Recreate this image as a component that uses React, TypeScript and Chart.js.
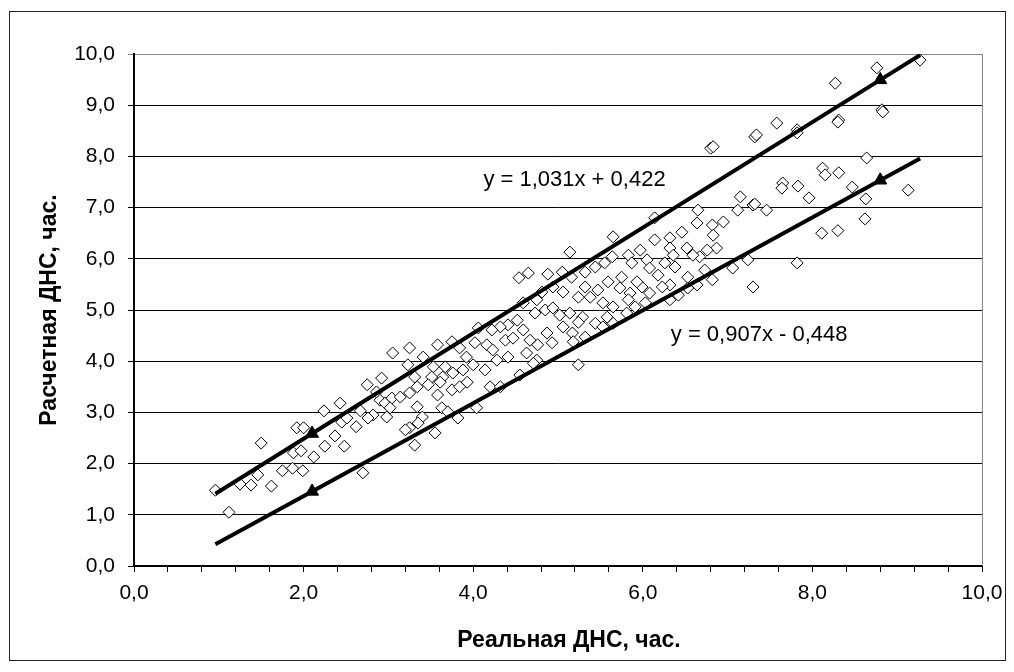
import React, { useEffect, useRef } from "react";
import { Chart, registerables } from "chart.js";

Chart.register(...registerables);

const realX = [
  0.96, 1.12, 1.25, 1.38, 1.46, 1.5, 1.62, 1.75, 1.87, 1.99, 1.88, 1.97, 2.12, 1.92, 2.0, 2.25, 2.37, 2.48,
  2.24, 2.43, 2.45, 2.51, 2.62, 2.67, 2.75, 2.82, 2.76, 2.92, 2.98, 2.9, 2.96, 3.04, 3.05, 2.7, 2.86, 3.02,
  5.14, 4.54, 4.65, 4.88, 5.05, 5.16, 5.06, 4.94, 4.81, 4.75, 4.59, 4.73, 4.85, 4.94, 5.02, 5.14, 4.52, 4.41,
  4.32, 4.22, 4.06, 3.75, 3.58, 3.25, 3.41, 3.53, 3.67, 3.84, 3.92, 4.02, 4.16, 4.23, 4.38, 4.47, 4.59, 4.67,
  4.76, 4.87, 4.93, 5.06, 5.17, 4.63, 4.75, 4.41, 4.28, 4.14, 4.0, 3.88, 3.76, 3.64, 3.51, 3.31, 3.23, 3.34,
  3.47, 3.61, 3.75, 3.93, 3.84, 3.58, 3.25, 3.14, 3.34, 3.63, 3.7, 3.4, 3.25, 3.2, 3.35, 3.55, 3.31, 3.82,
  4.04, 4.2, 4.32, 4.55, 4.71, 5.24,
  7.15, 7.12, 7.3, 6.65, 6.64, 6.82, 6.95, 6.83, 6.87, 6.76, 6.67, 6.46, 6.32, 6.14, 6.14, 5.65, 5.97, 5.83,
  5.64, 6.32, 6.52, 6.36, 6.59, 6.05, 6.26, 6.38, 5.87, 5.55, 5.44, 5.32, 6.08, 6.73, 7.06, 7.24, 7.3, 6.82,
  6.64, 6.53, 6.53, 6.42, 6.32, 6.32, 6.23, 6.18, 6.08, 5.99, 5.93, 5.85, 5.75, 5.73, 5.59, 5.47, 5.32, 5.24,
  5.38, 5.53, 5.65, 5.83, 5.91, 6.03, 5.81, 5.44, 5.29, 5.24, 5.58, 5.65, 5.53, 5.32, 5.18, 6.8, 6.83,
  9.27, 8.76, 8.27, 8.82, 8.83, 8.31, 8.3, 7.82, 7.82, 7.58, 7.32, 7.34, 8.64, 8.12, 8.15, 8.31, 7.65, 7.64,
  7.83, 7.96, 8.47, 9.13, 8.63, 7.32, 7.46, 8.62, 8.11, 8.3, 7.82,
];

const calcY = [
  1.48, 1.05, 1.6, 1.58, 1.78, 2.4, 1.56, 1.86, 1.91, 1.86, 2.21, 2.25, 2.13, 2.7, 2.7, 2.34, 2.54, 2.34,
  3.03, 3.18, 2.81, 2.89, 2.72, 3.03, 3.54, 2.95, 2.89, 3.67, 2.91, 3.24, 3.18, 3.28, 4.16, 1.82, 3.4, 3.09,
  6.13, 5.63, 5.72, 5.7, 5.74, 5.64, 5.35, 5.45, 5.35, 5.2, 5.14, 4.94, 5.0, 5.04, 4.9, 4.94, 4.8, 4.71,
  4.67, 4.61, 4.65, 4.38, 4.32, 4.26, 4.08, 3.89, 3.89, 4.26, 4.08, 4.36, 4.32, 4.22, 4.41, 4.45, 4.61, 4.41,
  4.32, 4.55, 4.36, 4.67, 4.55, 4.16, 4.02, 4.08, 4.02, 3.83, 3.93, 3.83, 3.77, 3.69, 3.69, 3.69, 3.93, 3.5,
  3.54, 3.59, 3.44, 3.59, 3.5, 3.34, 3.38, 3.3, 3.11, 3.09, 3.01, 2.91, 2.7, 2.66, 2.79, 2.6, 2.36, 2.89,
  3.09, 3.5, 3.5, 3.73, 3.96, 3.93,
  7.21, 6.95, 7.05, 6.95, 6.7, 6.66, 6.72, 6.46, 6.21, 6.17, 6.04, 6.52, 6.41, 6.37, 6.8, 6.43, 6.17, 6.07,
  6.04, 6.21, 6.21, 6.07, 6.07, 5.98, 5.92, 5.84, 5.92, 5.92, 5.84, 5.74, 5.82, 5.78, 5.82, 5.98, 5.45, 5.59,
  5.49, 5.64, 5.43, 5.29, 5.2, 5.49, 5.45, 5.68, 5.33, 5.45, 5.55, 5.33, 5.64, 5.43, 5.55, 5.39, 5.45, 5.25,
  5.25, 5.14, 5.06, 5.2, 5.06, 5.14, 4.94, 4.74, 4.86, 4.76, 4.86, 4.74, 4.67, 4.47, 4.38, 8.16, 8.19,
  9.88, 9.73, 9.43, 8.91, 8.87, 8.71, 8.67, 8.52, 8.46, 8.65, 8.38, 8.42, 7.97, 7.77, 7.64, 7.68, 7.48, 7.38,
  7.42, 7.19, 7.4, 7.34, 7.17, 7.07, 6.95, 6.78, 6.5, 6.55, 5.92,
];

// Trend line points (start, marker, marker, end)
const upperLineX = [0.96, 2.1, 8.8, 9.27];
const upperLineY = [1.412, 2.587, 9.495, 9.979];
const lowerLineX = [0.96, 2.1, 8.8, 9.27];
const lowerLineY = [0.423, 1.457, 7.534, 7.96];
const lineMarkerRadius = [0, 7.5, 7.5, 0];

const upperEquation = "y = 1,031x + 0,422";
const lowerEquation = "y = 0,907x - 0,448";
const upperEquationPos = { x: 4.12, y: 7.54 };
const lowerEquationPos = { x: 6.33, y: 4.51 };

const xTitle = "Реальная ДНС, час.";
const yTitle = "Расчетная ДНС, час.";

const FONT = "'Liberation Sans', Arial, sans-serif";
const fmt = (v: number) => v.toFixed(1).replace(".", ",");

export default function App() {
  const ref = useRef<HTMLCanvasElement | null>(null);

  useEffect(() => {
    if (!ref.current) return;
    const scatter = realX.map((x, i) => ({ x, y: calcY[i] }));
    const upper = upperLineX.map((x, i) => ({ x, y: upperLineY[i] }));
    const lower = lowerLineX.map((x, i) => ({ x, y: lowerLineY[i] }));

    const decor = {
      id: "decor",
      beforeDraw(chart: any) {
        const ctx = chart.ctx;
        ctx.save();
        ctx.fillStyle = "#fff";
        ctx.fillRect(0, 0, chart.width, chart.height);
        ctx.restore();
      },
      afterDraw(chart: any) {
        const ctx = chart.ctx;
        const { right, top, bottom } = chart.chartArea;
        const xs = chart.scales.x;
        const ys = chart.scales.y;
        ctx.save();
        // outer frame
        ctx.strokeStyle = "#222";
        ctx.lineWidth = 1;
        ctx.strokeRect(9.5, 11.5, 996, 649);
        // right plot border
        ctx.strokeStyle = "#888";
        ctx.beginPath();
        ctx.moveTo(right + 0.5, top);
        ctx.lineTo(right + 0.5, bottom);
        ctx.stroke();
        // equations
        ctx.fillStyle = "#000";
        ctx.font = `22px ${FONT}`;
        ctx.textBaseline = "middle";
        ctx.textAlign = "left";
        ctx.fillText(upperEquation, xs.getPixelForValue(upperEquationPos.x), ys.getPixelForValue(upperEquationPos.y));
        ctx.fillText(lowerEquation, xs.getPixelForValue(lowerEquationPos.x), ys.getPixelForValue(lowerEquationPos.y));
        // axis titles
        ctx.font = `bold 23px ${FONT}`;
        ctx.textAlign = "center";
        ctx.fillText(xTitle, 569, 641);
        ctx.translate(50, (top + bottom) / 2);
        ctx.rotate(-Math.PI / 2);
        ctx.fillText(yTitle, 0, 0);
        ctx.restore();
      },
    };

    const chart = new Chart(ref.current, {
      type: "scatter",
      data: {
        datasets: [
          {
            label: "upper",
            type: "line",
            data: upper,
            borderColor: "#000",
            borderWidth: 4,
            pointStyle: "triangle",
            pointRadius: lineMarkerRadius,
            pointBackgroundColor: "#000",
            pointBorderColor: "#000",
            pointBorderWidth: 1,
            showLine: true,
            fill: false,
            order: 0,
          } as any,
          {
            label: "lower",
            type: "line",
            data: lower,
            borderColor: "#000",
            borderWidth: 4,
            pointStyle: "triangle",
            pointRadius: lineMarkerRadius,
            pointBackgroundColor: "#000",
            pointBorderColor: "#000",
            pointBorderWidth: 1,
            showLine: true,
            fill: false,
            order: 0,
          } as any,
          {
            label: "data",
            data: scatter,
            pointStyle: "rectRot",
            pointRadius: 6,
            pointBackgroundColor: "#fff",
            pointBorderColor: "#000",
            pointBorderWidth: 1,
            order: 1,
          },
        ],
      },
      options: {
        animation: false,
        responsive: false,
        events: [],
        layout: { padding: { left: 0, top: 54, right: 32, bottom: 0 } },
        plugins: { legend: { display: false }, tooltip: { enabled: false } },
        scales: {
          x: {
            type: "linear",
            min: 0,
            max: 10,
            afterFit: (s: any) => {
              s.height = 106;
            },
            border: { display: true, color: "#000", width: 2 },
            grid: { drawOnChartArea: false, drawTicks: true, tickLength: 6, color: "#000", lineWidth: 1 },
            ticks: {
              stepSize: 0.4,
              autoSkip: false,
              maxRotation: 0,
              padding: 9,
              color: "#000",
              font: { family: FONT, size: 21 },
              callback: (v: any) => {
                const n = Number(v);
                return Math.abs(n / 2 - Math.round(n / 2)) < 1e-6 ? fmt(n) : "";
              },
            },
          },
          y: {
            type: "linear",
            min: 0,
            max: 10,
            afterFit: (s: any) => {
              s.width = 134;
            },
            border: { display: true, color: "#000", width: 2 },
            grid: {
              drawTicks: true,
              tickLength: 6,
              color: (c: any) => (c.tick && c.tick.value === 10 ? "#888" : "#000"),
              lineWidth: 1,
            },
            ticks: {
              stepSize: 1,
              padding: 13,
              color: "#000",
              font: { family: FONT, size: 21 },
              callback: (v: any) => fmt(Number(v)),
            },
          },
        },
      },
      plugins: [decor],
    });
    return () => chart.destroy();
  }, []);

  return (
    <div style={{ position: "fixed", left: 0, top: 0, width: 1014, height: 672, background: "#fff" }}>
      <canvas ref={ref} width={1014} height={672} style={{ display: "block" }} />
    </div>
  );
}
